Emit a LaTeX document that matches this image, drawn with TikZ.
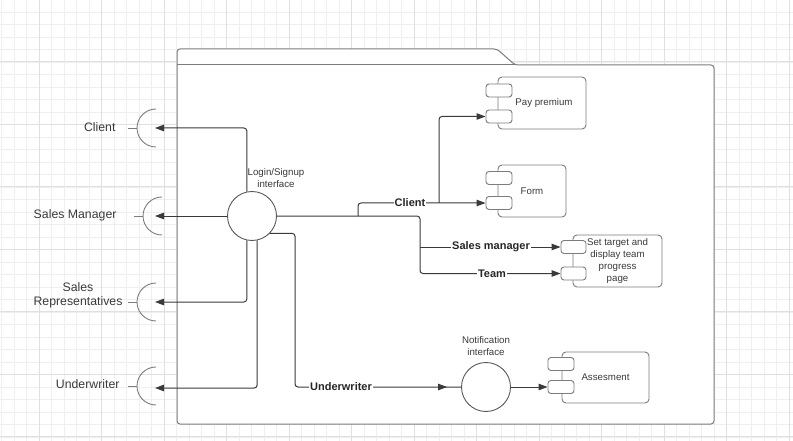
\documentclass[tikz,border=0pt]{standalone}
\usepackage{fontspec}
\setmainfont{Liberation Sans}
\usetikzlibrary{arrows.meta,decorations.markings}

\definecolor{gridminor}{HTML}{EFEFEF}
\definecolor{gridmajor}{HTML}{E0E0E0}
\definecolor{linecol}{HTML}{3A3A3A}
\definecolor{boxcol}{HTML}{7C7C7C}
\definecolor{txtcol}{HTML}{3A3A3A}

\begin{document}
\begin{tikzpicture}[x=1pt,y=-1pt,
  conn/.style={draw=linecol, line width=1pt, rounded corners=3pt},
  arr/.style={-{Triangle[length=9pt,width=6.5pt]}},
  midarr/.style={postaction={decorate}, decoration={markings,
      mark=at position -14pt with {\arrow{Triangle[length=9pt,width=6.5pt]}}}},
  comp/.style={draw=boxcol, line width=0.9pt, rounded corners=4pt, fill=white,
      font=\fontsize{9.7}{12}\selectfont, text=txtcol, align=center, inner sep=0pt},
  port/.style={draw=boxcol, line width=0.9pt, rounded corners=3pt, fill=white,
      minimum width=26pt, minimum height=13pt, inner sep=0pt},
  iface/.style={circle, draw=linecol!85, line width=0.9pt, fill=white,
      minimum size=49pt, inner sep=0pt},
  small/.style={font=\fontsize{9.7}{12.5}\selectfont, text=txtcol, align=center},
  side/.style={font=\fontsize{12.3}{14}\selectfont, text=txtcol, align=center},
  blab/.style={font=\bfseries\fontsize{11}{13}\selectfont, text=black!85,
      fill=white, inner sep=1pt},
  sock/.style={draw=boxcol, line width=0.9pt}
]
\useasboundingbox (0,0) rectangle (793,441);

% background grid
\foreach \gx in {1.5,14,...,793} \draw[gridminor, line width=0.7pt] (\gx,0) -- (\gx,441);
\foreach \gy in {12,24.5,...,441} \draw[gridminor, line width=0.7pt] (0,\gy) -- (793,\gy);
\foreach \gx in {39,101.5,...,793} \draw[gridmajor, line width=0.8pt] (\gx,0) -- (\gx,441);
\foreach \gy in {61.5,124,...,441} \draw[gridmajor, line width=0.8pt] (0,\gy) -- (793,\gy);

% package frame with tab
\draw[draw=boxcol, line width=1pt, fill=white, rounded corners=3pt]
  (177,424) -- (177,49) -- (497,49) -- (515,65) -- (714,65) -- (714,424) -- cycle;
\draw[boxcol, line width=1pt] (177,65) -- (515,65);

% provided interfaces
\node[iface] (login) at (252,216) {};
\node[small] (loginlbl) at (276,178) {Login/Signup\\interface};
\node[iface] (notif) at (486,387) {};
\node[small] (notiflbl) at (486,346) {Notification\\interface};

% components
\node[comp, minimum width=88pt, minimum height=52pt] (pp) at (542,103) {\hspace*{4pt}Pay premium};
\node[port] (ppA) at (499,90.5) {};
\node[port] (ppB) at (499,116.5) {};

\node[comp, minimum width=68pt, minimum height=52pt] (frm) at (532,191) {Form};
\node[port] (frmA) at (499,178) {};
\node[port] (frmB) at (499,203) {};

\node[comp, minimum width=89pt, minimum height=52pt] (st) at (617.5,261)
  {Set target and\\display team\\progress\\page};
\node[port, minimum width=25pt] (stA) at (573.5,247) {};
\node[port, minimum width=25pt] (stB) at (573.5,273.5) {};

\node[comp, minimum width=87pt, minimum height=51pt] (as) at (605.5,377.5) {Assesment};
\node[port] (asA) at (561,364) {};
\node[port] (asB) at (561,387) {};

% required interfaces (sockets) on the left
\newcommand{\socketat}[2]{%
  \draw[sock] (#1-28,#2) -- (#1-19,#2);
  \draw[sock] (#1,#2+19) arc[start angle=90, end angle=270, radius=19];}
\socketat{156}{128}
\socketat{162}{216}
\socketat{156}{302}
\socketat{156}{386}

\coordinate (sockClient) at (155,128);
\coordinate (sockSM) at (155,216);
\coordinate (sockSR) at (155,302);
\coordinate (sockUW) at (155,388);

\node[side, anchor=east] (lClient) at (119,127) {Client};
\node[side, anchor=east] (lSM) at (120,215) {Sales Manager};
\node[side] (lSR) at (78,295) {Sales\\Representatives};
\node[side, anchor=east] (lUW) at (123,384) {Underwriter};

% connectors from the login interface to the actors
\draw[conn,arr] (login.102) |- (sockClient);
\draw[conn,arr] (login.west) -- (sockSM);
\draw[conn,arr] (login.258) |- (sockSR);
\draw[conn,arr] (login.282) |- (sockUW);

% connectors into the package
\coordinate (jClient) at (358,216);
\coordinate (jSplit) at (420,216);
\coordinate (jSM) at (420,247);
\coordinate (jPay) at (439,203);
\coordinate (jUW) at (295,300);

\draw[conn,arr] (login.east) -- (jSplit) |- (stB.west);
\draw[conn,arr] (jSM) -- (stA.west);
\draw[conn,arr] (jClient) |- (frmB.west);
\draw[conn,arr] (jPay) |- (ppB.west);
\draw[conn,midarr] (login.316) -| (jUW) |- (notif.west);
\draw[conn,arr] (notif.east) -- (asB.west);

% connector labels
\node[blab] (cClient) at (410,203) {Client};
\node[blab] (cSM) at (491,247) {Sales manager};
\node[blab] (cTeam) at (492,273.5) {Team};
\node[blab] (cUW) at (341,387) {Underwriter};
\end{tikzpicture}
\end{document}
